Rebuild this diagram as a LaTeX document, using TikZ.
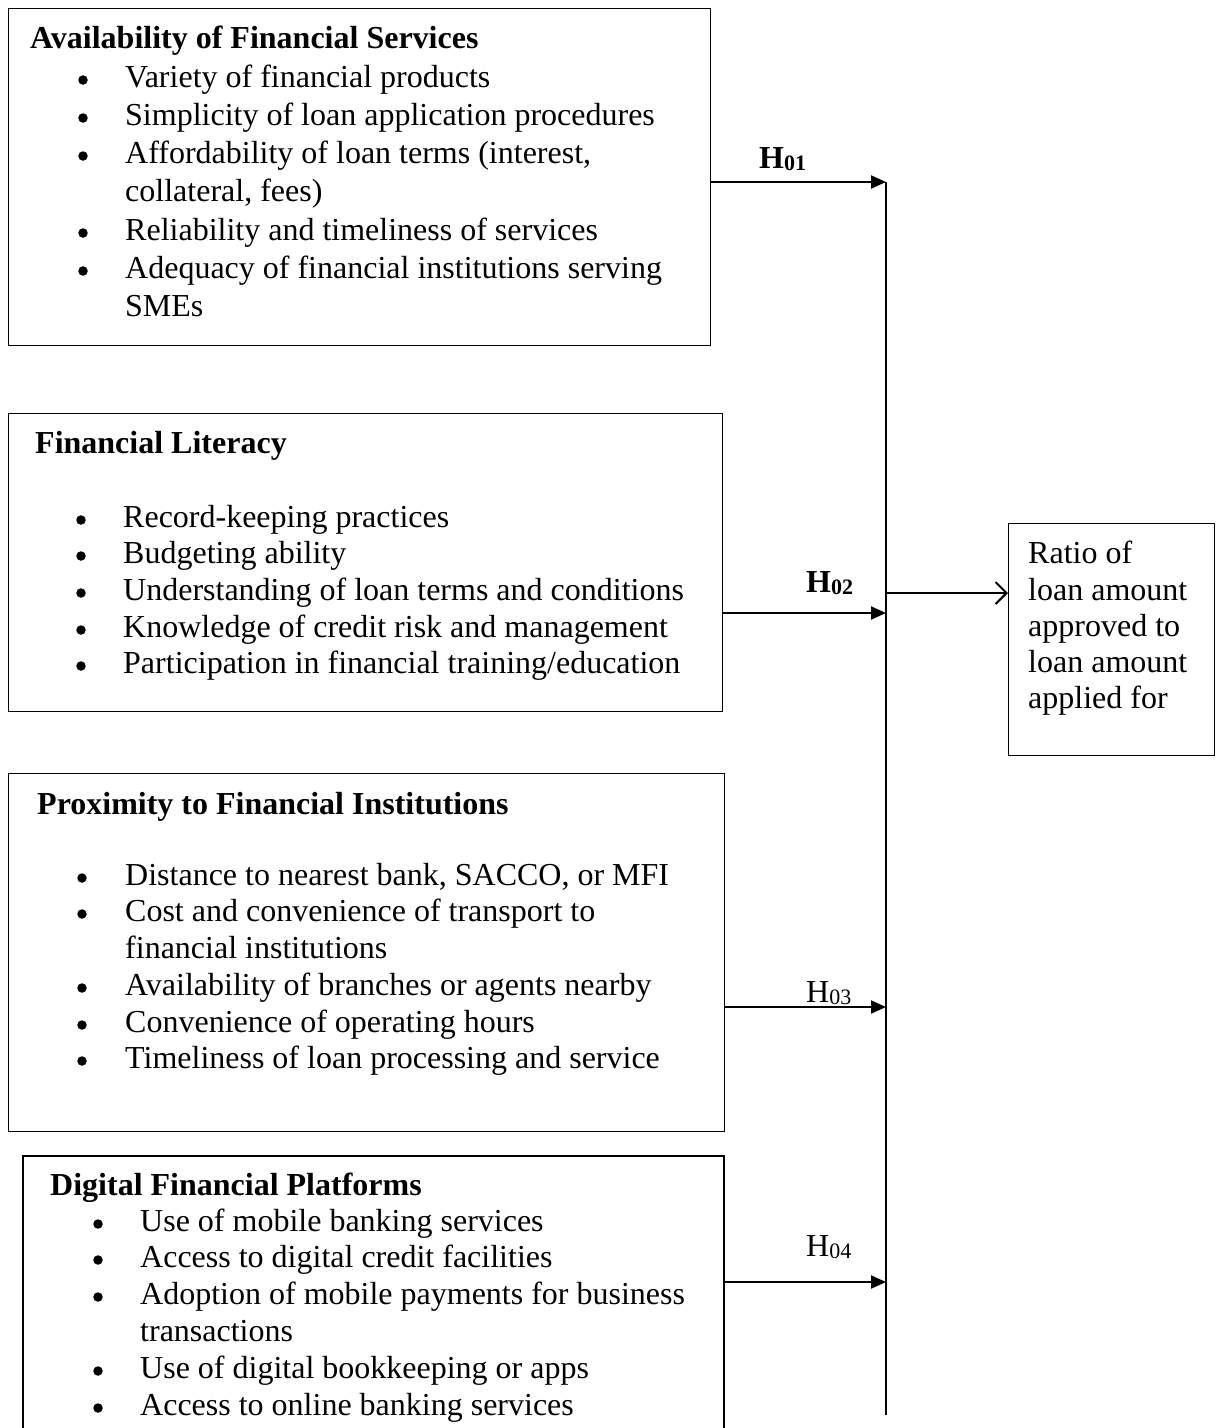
\documentclass[tikz,border=0pt]{standalone}
\usepackage{fontspec}
\setmainfont{Liberation Serif}
\usetikzlibrary{arrows.meta}
\begin{document}
\begin{tikzpicture}[x=1pt,y=-1pt,
 box/.style={draw, line width=1.3pt, inner sep=0, anchor=north west},
 bul/.style={circle, fill, inner sep=0, minimum size=9.5pt},
 txt/.style={anchor=base west, inner sep=0, font=\fontsize{32}{36.8}\selectfont},
 hd/.style={anchor=base west, inner sep=0, font=\fontsize{32}{36.8}\selectfont\bfseries},
 hl/.style={anchor=base west, inner sep=0, font=\fontsize{32}{36.8}\selectfont},
 ln/.style={line width=2pt},
 arr/.style={ln, -{Triangle[length=15pt,width=13pt]}},
 oarr/.style={ln, -{Straight Barb[length=11pt,width=22pt,line width=2pt]}},
]
\useasboundingbox (0,0) rectangle (1217,1428);
\newcommand{\hsub}[1]{{\fontsize{22}{22}\selectfont\raisebox{-2pt}{#1}}}

% boxes
\node[box, minimum width=702pt, minimum height=337pt] (b1) at (8,8) {};
\node[box, minimum width=714pt, minimum height=298pt] (b2) at (8,413) {};
\node[box, minimum width=716pt, minimum height=358pt] (b3) at (8,773) {};
\node[box, minimum width=206pt, minimum height=232pt] (out) at (1008,523) {};
\draw[line width=1.3pt] (23,1440) -- (23,1156) -- (724,1156) -- (724,1440);
\coordinate (b4e) at (724,1282);

% box 1
\node[hd] (h1) at (30,48) {Availability of Financial Services};
\node[bul] (p11) at (83,80) {};
\node[txt] (t11) at (125,87) {Variety of financial products};
\node[bul] (p12) at (83,118) {};
\node[txt] (t12) at (125,125) {Simplicity of loan application procedures};
\node[bul] (p13) at (83,156) {};
\node[txt] (t13) at (125,163) {Affordability of loan terms (interest,};
\node[txt] (t13b) at (125,201) {collateral, fees)};
\node[bul] (p14) at (83,233) {};
\node[txt] (t14) at (125,240) {Reliability and timeliness of services};
\node[bul] (p15) at (83,271) {};
\node[txt] (t15) at (125,278) {Adequacy of financial institutions serving};
\node[txt] (t15b) at (125,316) {SMEs};

% box 2
\node[hd] (h2) at (35,453) {Financial Literacy};
\node[bul] (p21) at (81,520) {};
\node[txt] (t21) at (123,527) {Record-keeping practices};
\node[bul] (p22) at (81,556) {};
\node[txt] (t22) at (123,563) {Budgeting ability};
\node[bul] (p23) at (81,593) {};
\node[txt] (t23) at (123,600) {Understanding of loan terms and conditions};
\node[bul] (p24) at (81,630) {};
\node[txt] (t24) at (123,637) {Knowledge of credit risk and management};
\node[bul] (p25) at (81,666) {};
\node[txt] (t25) at (123,673) {Participation in financial training/education};

% box 3
\node[hd] (h3) at (37,814) {Proximity to Financial Institutions};
\node[bul] (p31) at (82,878) {};
\node[txt] (t31) at (125,885) {Distance to nearest bank, SACCO, or MFI};
\node[bul] (p32) at (82,914) {};
\node[txt] (t32) at (125,921) {Cost and convenience of transport to};
\node[txt] (t32b) at (125,958) {financial institutions};
\node[bul] (p33) at (82,988) {};
\node[txt] (t33) at (125,995) {Availability of branches or agents nearby};
\node[bul] (p34) at (82,1025) {};
\node[txt] (t34) at (125,1032) {Convenience of operating hours};
\node[bul] (p35) at (82,1061) {};
\node[txt] (t35) at (125,1068) {Timeliness of loan processing and service};

% box 4
\node[hd] (h4) at (50,1195) {Digital Financial Platforms};
\node[bul] (p41) at (98,1224) {};
\node[txt] (t41) at (140,1231) {Use of mobile banking services};
\node[bul] (p42) at (98,1260) {};
\node[txt] (t42) at (140,1267) {Access to digital credit facilities};
\node[bul] (p43) at (98,1297) {};
\node[txt] (t43) at (140,1304) {Adoption of mobile payments for business};
\node[txt] (t43b) at (140,1341) {transactions};
\node[bul] (p44) at (98,1371) {};
\node[txt] (t44) at (140,1378) {Use of digital bookkeeping or apps};
\node[bul] (p45) at (98,1408) {};
\node[txt] (t45) at (140,1415) {Access to online banking services};

% outcome text
\node[txt] (o1) at (1028,563) {Ratio of};
\node[txt] (o2) at (1028,600) {loan amount};
\node[txt] (o3) at (1028,636) {approved to};
\node[txt] (o4) at (1028,672) {loan amount};
\node[txt] (o5) at (1028,708) {applied for};

% connector spine
\coordinate (top) at (886,182);
\coordinate (bot) at (886,1415);
\coordinate (j2) at (886,613);
\coordinate (j3) at (886,1007);
\coordinate (j4) at (886,1282);
\coordinate (jo) at (886,593);
\draw[ln] (top) -- (bot);

\draw[arr] (b1.east |- top) -- (top);
\draw[arr] (b2.east |- j2) -- (j2);
\draw[arr] (b3.east |- j3) -- (j3);
\draw[arr] (b4e) -- (j4);
\draw[oarr] (jo) -- (out.west |- jo);

% labels
\node[hd] (l1) at (759,168) {H\hsub{01}};
\node[hd] (l2) at (806,592) {H\hsub{02}};
\node[hl] (l3) at (806,1002) {H\hsub{03}};
\node[hl] (l4) at (806,1256) {H\hsub{04}};
\end{tikzpicture}
\end{document}
